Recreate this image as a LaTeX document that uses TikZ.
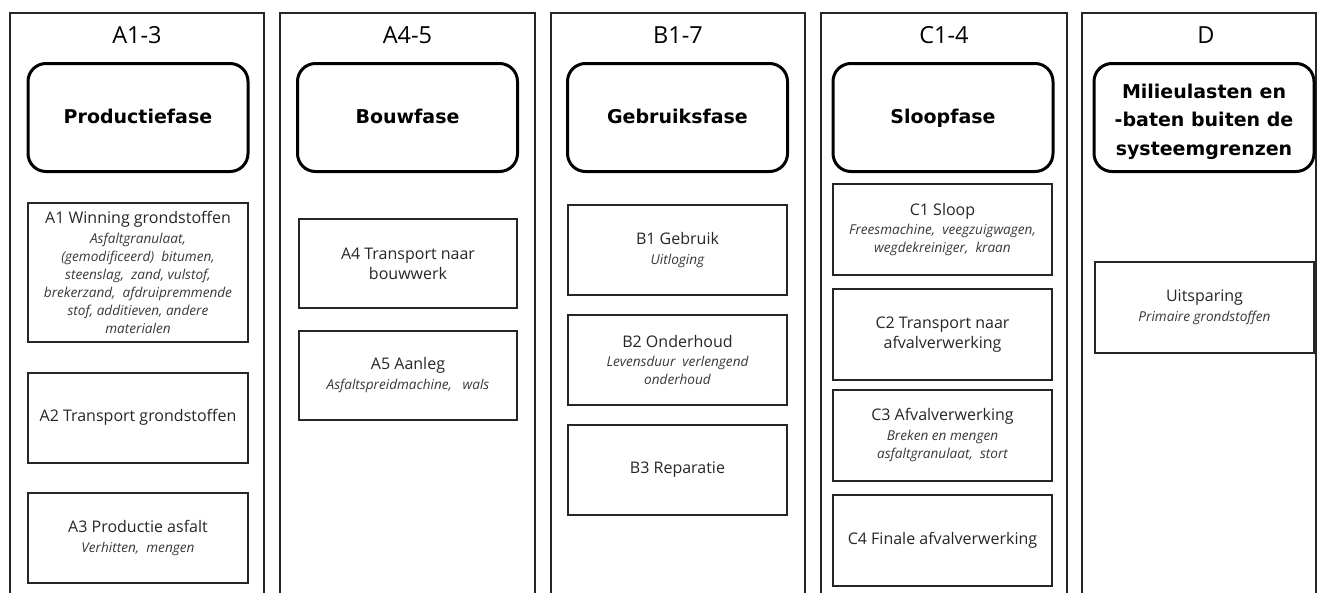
\documentclass[tikz,border=0pt]{standalone}
\usepackage{fontspec}
\setmainfont{Open Sans}
\newfontfamily\phasefont{DejaVu Sans}
\newcommand\ital{\itshape\fontsize{13.6}{18}\selectfont\color{black!78}}
\begin{document}
\begin{tikzpicture}[x=1pt,y=-1pt,
  colframe/.style={draw=black!85, line width=1.4pt},
  phase/.style={draw=black, line width=3pt, rounded corners=18pt, minimum width=220pt, minimum height=108pt, align=center, inner sep=0pt, font=\phasefont\bfseries\fontsize{19}{29}\selectfont},
  item/.style={draw=black!85, line width=1.8pt, minimum width=220pt, minimum height=90pt, align=center, inner sep=0pt, font=\fontsize{16}{18}\selectfont, text=black!85},
  head/.style={font=\fontsize{23.5}{26}\selectfont, anchor=base}
]
\useasboundingbox (0,0) rectangle (1317,592);
\begin{scope}
\clip (0,0) rectangle (1317,592);
\draw[colframe] (10,13) rectangle (264,640);
\draw[colframe] (280,13) rectangle (535,640);
\draw[colframe] (551,13) rectangle (805,640);
\draw[colframe] (821,13) rectangle (1067,640);
\draw[colframe] (1082,13) rectangle (1316,640);
\end{scope}
% headers
\node[head] (h1) at (137,43) {A1-3};
\node[head] (h2) at (407.5,43) {A4-5};
\node[head] (h3) at (678,43) {B1-7};
\node[head] (h4) at (944,43) {C1-4};
\node[head] (h5) at (1206,43) {D};
% phases
\node[phase] (p1) at (138,117.5) {\strut Productiefase};
\node[phase] (p2) at (407.5,117.5) {\strut Bouwfase};
\node[phase] (p3) at (677.5,117.5) {\strut Gebruiksfase};
\node[phase] (p4) at (943,117.5) {\strut Sloopfase};
\node[phase, align=none] (p5) at (1204,117.5) {\raisebox{0pt}[\dimexpr\height+7pt\relax][\depth]{\begin{tabular}{@{}c@{}}Milieulasten en\\[-0.5pt]-baten buiten de\\[-0.5pt]systeemgrenzen\end{tabular}}};
% column 1
\node[item, minimum height=139pt] (a1) at (138,272.5) {A1 Winning grondstoffen\\[2pt]
 \ital Asfaltgranulaat,\\ \ital (gemodificeerd)\ \ bitumen,\\ \ital steenslag,\ \ zand, vulstof,\\ \ital brekerzand,\ \ afdruipremmende\\ \ital stof, additieven, andere\\ \ital materialen};
\node[item] (a2) at (138,418) {\strut A2 Transport grondstoffen};
\node[item] (a3) at (138,538) {A3 Productie asfalt\\[2pt] \ital Verhitten,\ \ mengen};
% column 2
\node[item, minimum width=218pt, minimum height=89pt] (a4) at (408,263.5) {A4 Transport naar\\[2pt]bouwwerk};
\node[item, minimum width=218pt, minimum height=89pt] (a5) at (408,375.5) {A5 Aanleg\\[2pt] \ital Asfaltspreidmachine,\ \ \ wals};
% column 3
\node[item, minimum width=219pt] (b1) at (677.5,250) {B1 Gebruik\\[2pt] \ital Uitloging};
\node[item, minimum width=219pt] (b2) at (677.5,360) {B2 Onderhoud\\[1pt] \ital Levensduur\ \ verlengend\\ \ital onderhoud};
\node[item, minimum width=219pt] (b3) at (677.5,470) {\strut B3 Reparatie};
% column 4
\node[item, minimum width=219pt, minimum height=91pt] (c1) at (942.5,229.5) {C1 Sloop\\[1pt] \ital Freesmachine,\ \ veegzuigwagen,\\ \ital wegdekreiniger,\ \ kraan};
\node[item, minimum width=219pt, minimum height=91pt] (c2) at (942.5,334.5) {C2 Transport naar\\[2pt]afvalverwerking};
\node[item, minimum width=219pt, minimum height=91pt] (c3) at (942.5,435.5) {C3 Afvalverwerking\\[2pt] \ital Breken en mengen\\ \ital asfaltgranulaat,\ \ stort};
\node[item, minimum width=219pt, minimum height=91pt] (c4) at (942.5,540.5) {\strut C4 Finale afvalverwerking};
% column 5
\node[item, minimum width=219pt, minimum height=91pt] (d1) at (1204.5,307.5) {Uitsparing\\[2pt] \ital Primaire grondstoffen};
\end{tikzpicture}
\end{document}
